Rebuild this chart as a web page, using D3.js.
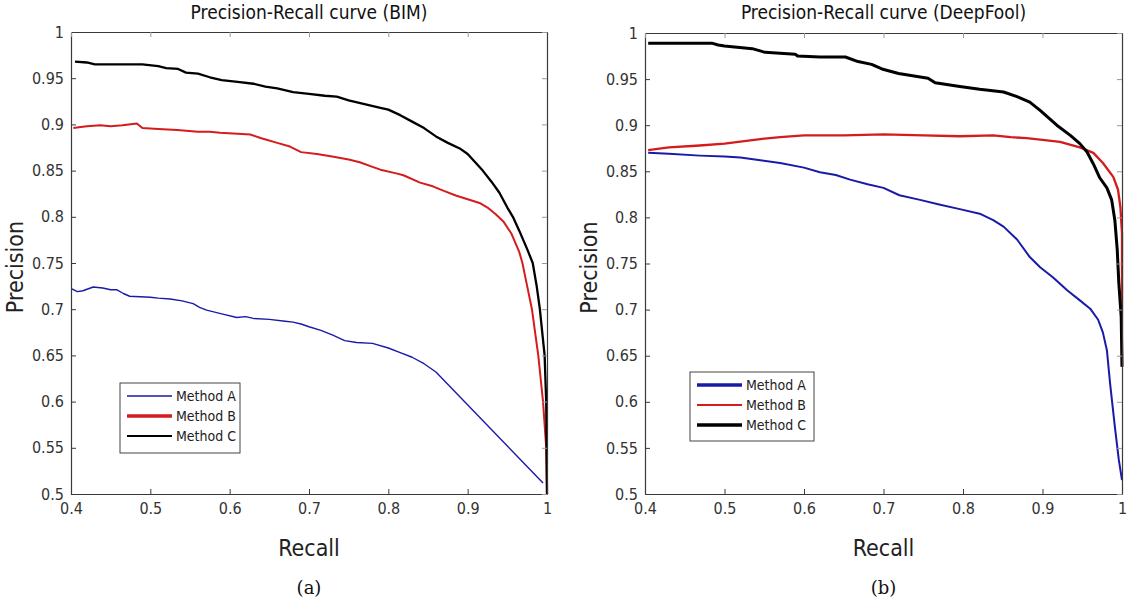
<!DOCTYPE html>
<html>
<head>
<meta charset="utf-8">
<script src="https://cdn.jsdelivr.net/npm/d3@7"></script>
<style>
  html, body { margin: 0; padding: 0; background: #ffffff; }
  svg { display: block; }
  .sans { font-family: "DejaVu Sans Condensed", "DejaVu Sans", sans-serif; font-stretch: condensed; }
</style>
</head>
<body>
<svg id="chart" width="1130" height="604"></svg>
<script>
// ---------------- DATA ----------------
const panelTitles = ["Precision-Recall curve (BIM)", "Precision-Recall curve (DeepFool)"];
const panelCaptions = ["(a)", "(b)"];
const seriesNames = ["Method A", "Method B", "Method C"];
const seriesColors = ["#1a1aa8", "#d41c1c", "#000000"];
const xTicks = [0.4, 0.5, 0.6, 0.7, 0.8, 0.9, 1];
const yTicks = [0.5, 0.55, 0.6, 0.65, 0.7, 0.75, 0.8, 0.85, 0.9, 0.95, 1];
const xLabel = "Recall";
const yLabel = "Precision";

// BIM panel, [recall, precision]
const bimMethodA = [
  [0.401,0.722],[0.408,0.719],[0.415,0.720],[0.428,0.724],[0.44,0.723],[0.45,0.721],[0.458,0.721],[0.466,0.717],
  [0.474,0.714],[0.50,0.713],[0.51,0.712],[0.525,0.711],[0.54,0.709],[0.554,0.706],[0.562,0.702],[0.571,0.699],
  [0.59,0.695],[0.609,0.691],[0.62,0.692],[0.63,0.690],[0.65,0.689],[0.67,0.687],[0.68,0.686],[0.69,0.684],
  [0.70,0.681],[0.715,0.677],[0.73,0.672],[0.745,0.666],[0.76,0.664],[0.78,0.663],
  [0.80,0.658],[0.815,0.653],[0.83,0.648],[0.845,0.641],[0.86,0.632],[0.995,0.512]
];
const bimMethodB = [
  [0.403,0.896],[0.41,0.897],[0.42,0.898],[0.437,0.899],[0.45,0.898],[0.465,0.899],[0.483,0.901],
  [0.49,0.896],[0.51,0.895],[0.534,0.894],[0.56,0.892],[0.575,0.892],[0.588,0.891],[0.61,0.890],
  [0.626,0.889],[0.64,0.885],[0.66,0.880],[0.676,0.876],[0.69,0.870],[0.71,0.868],
  [0.731,0.865],[0.75,0.862],[0.764,0.859],[0.78,0.854],[0.79,0.851],[0.81,0.847],
  [0.819,0.845],[0.84,0.837],[0.856,0.833],[0.87,0.828],[0.885,0.823],[0.90,0.819],
  [0.915,0.815],[0.925,0.810],[0.935,0.803],[0.945,0.795],[0.955,0.782],[0.965,0.762],
  [0.969,0.750],[0.975,0.725],[0.981,0.700],[0.985,0.675],[0.989,0.650],[0.992,0.625],
  [0.995,0.600],[0.997,0.575],[0.999,0.550],[1.0,0.500]
];
const bimMethodC = [
  [0.405,0.968],[0.42,0.967],[0.43,0.965],[0.46,0.965],[0.49,0.965],[0.51,0.963],
  [0.52,0.961],[0.535,0.960],[0.545,0.956],[0.56,0.955],[0.575,0.951],[0.59,0.948],
  [0.61,0.946],[0.63,0.944],[0.645,0.941],[0.66,0.939],[0.68,0.935],[0.70,0.933],
  [0.72,0.931],[0.735,0.930],[0.75,0.926],[0.77,0.922],[0.79,0.918],[0.80,0.916],
  [0.815,0.910],[0.83,0.903],[0.845,0.896],[0.86,0.887],[0.875,0.880],[0.89,0.874],
  [0.90,0.868],[0.919,0.850],[0.93,0.838],[0.94,0.826],[0.95,0.810],[0.957,0.800],
  [0.965,0.785],[0.975,0.765],[0.982,0.750],[0.987,0.725],[0.991,0.700],[0.994,0.675],
  [0.997,0.650],[0.999,0.600],[1.0,0.500]
];

// DeepFool panel, [recall, precision]
const dfMethodA = [
  [0.404,0.870],[0.43,0.869],[0.469,0.867],[0.50,0.866],[0.52,0.865],[0.545,0.862],
  [0.57,0.859],[0.60,0.854],[0.62,0.849],[0.64,0.846],[0.658,0.841],[0.68,0.836],
  [0.70,0.832],[0.72,0.824],[0.746,0.819],[0.77,0.814],[0.796,0.809],[0.821,0.804],
  [0.838,0.797],[0.851,0.790],[0.868,0.776],[0.884,0.757],[0.897,0.746],[0.913,0.735],
  [0.931,0.721],[0.947,0.710],[0.960,0.701],[0.970,0.689],[0.976,0.675],[0.981,0.656],
  [0.985,0.620],[0.991,0.573],[0.996,0.537],[1.0,0.515]
];
const dfMethodB = [
  [0.404,0.873],[0.43,0.876],[0.469,0.878],[0.50,0.880],[0.545,0.885],[0.57,0.887],
  [0.60,0.889],[0.65,0.889],[0.70,0.890],[0.75,0.889],[0.796,0.888],[0.838,0.889],
  [0.86,0.887],[0.880,0.886],[0.90,0.884],[0.922,0.882],[0.947,0.876],[0.964,0.870],
  [0.976,0.859],[0.989,0.844],[0.995,0.830],[0.998,0.811],[1.0,0.783],[1.0,0.638]
];
const dfMethodC = [
  [0.404,0.989],[0.43,0.989],[0.46,0.989],[0.484,0.989],[0.492,0.987],[0.50,0.986],
  [0.535,0.983],[0.551,0.979],[0.589,0.977],[0.592,0.975],[0.62,0.974],[0.652,0.974],
  [0.668,0.969],[0.685,0.966],[0.698,0.961],[0.719,0.956],[0.756,0.951],[0.765,0.946],
  [0.796,0.942],[0.821,0.939],[0.851,0.936],[0.868,0.931],[0.884,0.925],[0.897,0.916],
  [0.918,0.900],[0.935,0.889],[0.947,0.880],[0.956,0.871],[0.964,0.858],[0.972,0.843],
  [0.981,0.832],[0.987,0.819],[0.991,0.797],[0.994,0.765],[0.996,0.729],[0.999,0.692],
  [1.0,0.638]
];

// ---------------- LAYOUT ----------------
const panels = [
  { series: [bimMethodA, bimMethodB, bimMethodC], x0: 71, x1: 547, y0: 32, y1: 494,
    widths: [1.4, 2.0, 2.3], legendWidths: [1.6, 3.6, 2.2],
    legend: { x: 120, y: 383, w: 120, h: 70 } },
  { series: [dfMethodA, dfMethodB, dfMethodC], x0: 645, x1: 1122, y0: 33, y1: 494,
    widths: [2.0, 2.3, 3.0], legendWidths: [3.6, 2.0, 3.6],
    legend: { x: 690, y: 372, w: 124, h: 69 } }
];

const svg = d3.select("#chart");
const axisColor = "#3a3a3a";

panels.forEach((p, i) => {
  const x = d3.scaleLinear().domain([0.4, 1]).range([p.x0, p.x1]);
  const y = d3.scaleLinear().domain([0.5, 1]).range([p.y1, p.y0]);
  const g = svg.append("g");

  // curves
  const line = d3.line().x(d => x(d[0])).y(d => y(d[1]));
  p.series.forEach((s, k) => {
    g.append("path").datum(s)
      .attr("fill", "none")
      .attr("stroke", seriesColors[k])
      .attr("stroke-width", p.widths[k])
      .attr("stroke-linejoin", "round")
      .attr("d", line);
  });

  // axes (ticks inward, mirrored)
  const fmt = d => String(d);
  const bottom = g.append("g").attr("transform", `translate(0,${p.y1})`)
    .call(d3.axisBottom(x).tickValues(xTicks).tickFormat(fmt).tickSizeInner(-5).tickSizeOuter(0).tickPadding(9));
  const left = g.append("g").attr("transform", `translate(${p.x0},0)`)
    .call(d3.axisLeft(y).tickValues(yTicks).tickFormat(fmt).tickSizeInner(-5).tickSizeOuter(0).tickPadding(7));
  const top = g.append("g").attr("transform", `translate(0,${p.y0})`)
    .call(d3.axisTop(x).tickValues(xTicks).tickFormat("").tickSizeInner(-5).tickSizeOuter(0));
  const right = g.append("g").attr("transform", `translate(${p.x1},0)`)
    .call(d3.axisRight(y).tickValues(yTicks).tickFormat("").tickSizeInner(-5).tickSizeOuter(0));
  [bottom, left, top, right].forEach(a => {
    a.selectAll("path.domain").attr("stroke", axisColor).attr("stroke-width", 1.2);
    a.selectAll(".tick line").attr("stroke", axisColor).attr("stroke-width", 1);
    a.selectAll(".tick text").attr("class", "sans").attr("fill", "#333")
      .style("font-size", "16px");
  });
  top.selectAll(".tick line").attr("stroke", "#999");
  right.selectAll(".tick line").attr("stroke", "#999");

  // title
  const cx = (p.x0 + p.x1) / 2;
  g.append("text").attr("class", "sans").attr("x", cx).attr("y", 19)
    .attr("text-anchor", "middle").style("font-size", "19px").attr("fill", "#111")
    .text(panelTitles[i]);

  // axis labels
  g.append("text").attr("class", "sans").attr("x", cx).attr("y", 556)
    .attr("text-anchor", "middle").style("font-size", "23px").attr("fill", "#222")
    .text(xLabel);
  g.append("text").attr("class", "sans")
    .attr("transform", `translate(${p.x0 - 48},${(p.y0 + p.y1) / 2 + 4}) rotate(-90)`)
    .attr("text-anchor", "middle").style("font-size", "23px").attr("fill", "#222")
    .text(yLabel);

  // caption
  g.append("text").attr("x", cx).attr("y", 594)
    .attr("text-anchor", "middle")
    .style("font-family", "'DejaVu Serif', 'Liberation Serif', serif")
    .style("font-size", "18px").attr("fill", "#111")
    .text(panelCaptions[i]);

  // legend
  const L = p.legend;
  const lg = g.append("g").attr("transform", `translate(${L.x},${L.y})`);
  lg.append("rect").attr("width", L.w).attr("height", L.h)
    .attr("fill", "#fff").attr("stroke", "#444").attr("stroke-width", 1);
  seriesNames.forEach((name, k) => {
    const yy = 13 + k * 20;
    lg.append("line").attr("x1", 7).attr("x2", 52).attr("y1", yy).attr("y2", yy)
      .attr("stroke", seriesColors[k]).attr("stroke-width", p.legendWidths[k]);
    lg.append("text").attr("class", "sans").attr("x", 56).attr("y", yy + 5)
      .style("font-size", "14px").attr("fill", "#222").text(name);
  });
});
</script>
</body>
</html>
